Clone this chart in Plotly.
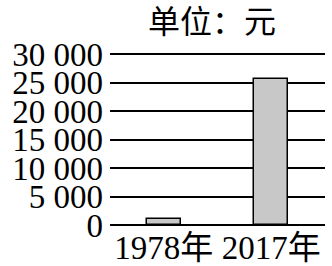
import plotly.graph_objects as go

categories = ["1978年", "2017年"]
values = [1100, 25700]
tick_vals = [0, 5000, 10000, 15000, 20000, 25000, 30000]
tick_text = ["0", "5 000", "10 000", "15 000", "20 000", "25 000", "30 000"]
title_text = "单位：元"

font_family = "Liberation Serif, Times New Roman, Noto Sans CJK SC, serif"

fig = go.Figure()
fig.add_trace(go.Bar(
    x=categories, y=values, width=0.32,
    marker=dict(color="#c8c8c8", line=dict(color="black", width=1.5)),
))

fig.update_layout(
    width=332, height=266,
    margin=dict(l=110, r=7, t=53, b=41, pad=0),
    paper_bgcolor="white", plot_bgcolor="white",
    showlegend=False,
    font=dict(family=font_family, size=33, color="black"),
    title=dict(text=title_text, x=212/332, xanchor="center", y=1 - 22/266, yanchor="middle",
               font=dict(family=font_family, size=32, color="black")),
    bargap=0,
)
fig.update_xaxes(
    range=[-0.5, 1.5], showgrid=False, showline=False, zeroline=False,
    ticks="", tickfont=dict(size=33), fixedrange=True, automargin=False,
)
fig.update_yaxes(
    range=[0, 30200], tickvals=tick_vals, ticktext=tick_text,
    showgrid=True, gridcolor="black", gridwidth=1.8,
    zeroline=True, zerolinecolor="black", zerolinewidth=1.8,
    showline=False, ticks="", ticklabelstandoff=6,
    tickfont=dict(size=33), fixedrange=True, automargin=False,
)

fig.write_html(
    "out.html",
    config={"displayModeBar": False},
    post_script="document.body.style.margin='0';document.body.style.padding='0';",
)
